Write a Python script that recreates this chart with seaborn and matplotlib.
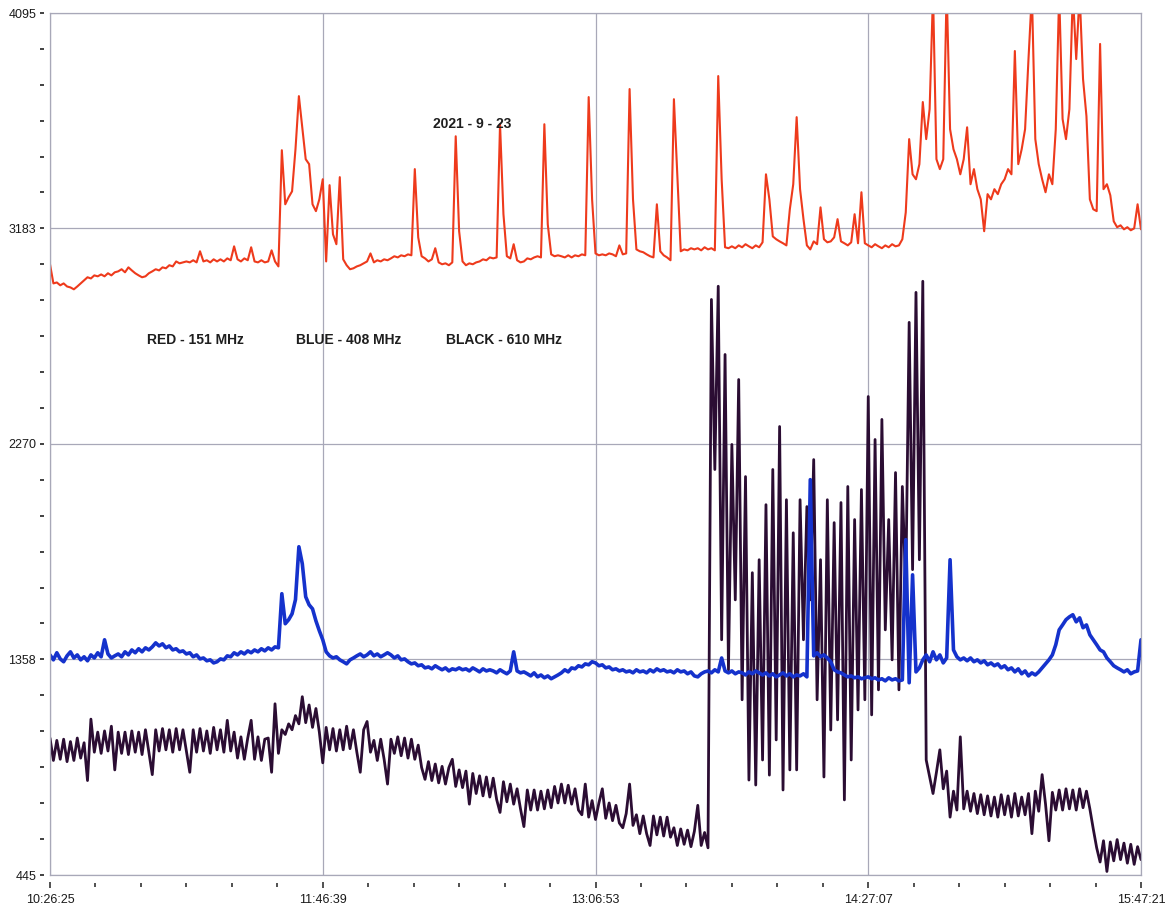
import numpy as np
import matplotlib
matplotlib.use("Agg")
import matplotlib.pyplot as plt
import matplotlib.transforms as mtransforms
import seaborn as sns

sns.set_style("white")
plt.rcParams["font.family"] = ["Liberation Sans", "DejaVu Sans"]

# Recording window: 10:26:25 -> 15:47:21, seconds from start
DURATION_S = 19256
time_ticks_s = [0, 4814, 9628, 14442, 19256]
time_labels = ["10:26:25", "11:46:39", "13:06:53", "14:27:07", "15:47:21"]
level_ticks = [445, 1358, 2270, 3183, 4095]
level_labels = ["445", "1358", "2270", "3183", "4095"]

# Receiver levels (ADC counts), one sample per ~60 s
red_151 = [
    3031, 2950, 2954, 2942, 2950, 2937, 2933, 2925, 2937, 2950,
    2963, 2976, 2971, 2984, 2980, 2988, 2980, 2993, 2984, 2997,
    3001, 3010, 2997, 3018, 3005, 2993, 2984, 2976, 2980, 2993,
    3001, 3010, 3005, 3018, 3014, 3027, 3022, 3043, 3035, 3039,
    3043, 3039, 3048, 3039, 3086, 3043, 3048, 3039, 3052, 3043,
    3052, 3043, 3056, 3048, 3107, 3052, 3043, 3056, 3048, 3103,
    3043, 3039, 3048, 3039, 3043, 3090, 3043, 3022, 3514, 3285,
    3315, 3340, 3518, 3743, 3611, 3476, 3455, 3285, 3256, 3306,
    3391, 3043, 3366, 3158, 3116, 3400, 3052, 3027, 3010, 3014,
    3022, 3027, 3035, 3043, 3077, 3039, 3048, 3043, 3052, 3048,
    3056, 3065, 3060, 3069, 3065, 3073, 3069, 3434, 3145, 3065,
    3056, 3043, 3052, 3099, 3039, 3031, 3035, 3027, 3039, 3573,
    3171, 3043, 3027, 3035, 3031, 3039, 3043, 3052, 3048, 3060,
    3056, 3060, 3624, 3243, 3065, 3056, 3116, 3048, 3039, 3043,
    3056, 3052, 3060, 3065, 3060, 3624, 3200, 3073, 3065, 3069,
    3065, 3060, 3069, 3060, 3069, 3065, 3073, 3069, 3739, 3306,
    3077, 3069, 3073, 3069, 3077, 3073, 3065, 3111, 3073, 3077,
    3773, 3306, 3094, 3086, 3082, 3073, 3065, 3060, 3285, 3086,
    3069, 3060, 3048, 3730, 3412, 3086, 3094, 3090, 3099, 3094,
    3099, 3090, 3103, 3094, 3099, 3090, 3828, 3391, 3103, 3099,
    3107, 3099, 3111, 3103, 3116, 3107, 3099, 3111, 3103, 3124,
    3412, 3306, 3149, 3137, 3128, 3120, 3111, 3264, 3370, 3654,
    3349, 3222, 3111, 3094, 3128, 3116, 3272, 3137, 3124, 3128,
    3145, 3222, 3128, 3120, 3111, 3124, 3243, 3120, 3336, 3120,
    3111, 3103, 3116, 3107, 3099, 3111, 3103, 3116, 3107, 3111,
    3137, 3251, 3561, 3412, 3391, 3455, 3718, 3561, 3688, 4180,
    3476, 3434, 3476, 4200, 3603, 3518, 3476, 3412, 3476, 3611,
    3370, 3434, 3349, 3306, 3171, 3328, 3306, 3349, 3328, 3370,
    3391, 3434, 3412, 3934, 3455, 3518, 3603, 3900, 4180, 3561,
    3455, 3391, 3336, 3412, 3370, 3603, 4180, 3646, 3561, 3688,
    4180, 3900, 4180, 3815, 3658, 3306, 3264, 3256, 3964, 3349,
    3370, 3323, 3213, 3188, 3196, 3179, 3188, 3175, 3183, 3285, 3179,
]

blue_408 = [
    1377, 1356, 1386, 1360, 1348, 1373, 1390, 1364, 1377, 1356,
    1369, 1352, 1377, 1364, 1386, 1369, 1441, 1381, 1364, 1373,
    1381, 1369, 1390, 1377, 1398, 1386, 1403, 1390, 1407, 1398,
    1411, 1428, 1415, 1424, 1407, 1415, 1398, 1403, 1390, 1394,
    1381, 1386, 1369, 1377, 1360, 1364, 1352, 1356, 1343, 1348,
    1360, 1356, 1373, 1369, 1386, 1377, 1390, 1381, 1394, 1386,
    1398, 1390, 1403, 1394, 1407, 1398, 1411, 1407, 1636, 1509,
    1526, 1551, 1611, 1835, 1763, 1623, 1589, 1572, 1521, 1479,
    1441, 1390, 1373, 1364, 1369, 1356, 1348, 1339, 1356, 1364,
    1373, 1381, 1369, 1377, 1390, 1373, 1381, 1369, 1377, 1386,
    1377, 1364, 1373, 1356, 1360, 1348, 1339, 1343, 1331, 1335,
    1322, 1326, 1318, 1331, 1322, 1314, 1322, 1309, 1318, 1314,
    1322, 1314, 1318, 1309, 1322, 1314, 1305, 1318, 1309, 1314,
    1309, 1301, 1314, 1305, 1297, 1309, 1390, 1309, 1301, 1305,
    1297, 1288, 1301, 1284, 1292, 1280, 1288, 1276, 1284, 1292,
    1301, 1314, 1305, 1322, 1318, 1331, 1326, 1339, 1335, 1348,
    1343, 1331, 1335, 1322, 1326, 1314, 1318, 1309, 1314, 1305,
    1309, 1301, 1314, 1305, 1309, 1301, 1314, 1305, 1318, 1309,
    1314, 1305, 1309, 1301, 1314, 1305, 1309, 1297, 1305, 1288,
    1284, 1297, 1305, 1309, 1301, 1314, 1305, 1364, 1309, 1301,
    1309, 1297, 1305, 1301, 1292, 1305, 1297, 1309, 1301, 1292,
    1301, 1288, 1297, 1284, 1292, 1301, 1288, 1297, 1284, 1292,
    1288, 1297, 1284, 2119, 1373, 1386, 1369, 1377, 1364, 1348,
    1314, 1305, 1301, 1292, 1284, 1288, 1280, 1284, 1276, 1280,
    1284, 1276, 1280, 1271, 1276, 1267, 1280, 1271, 1276, 1267,
    1271, 1865, 1259, 1716, 1305, 1322, 1356, 1377, 1348, 1390,
    1356, 1377, 1343, 1364, 1780, 1398, 1369, 1356, 1364, 1352,
    1364, 1348, 1356, 1343, 1352, 1335, 1343, 1331, 1339, 1322,
    1331, 1314, 1322, 1305, 1318, 1297, 1309, 1288, 1301, 1292,
    1305, 1322, 1339, 1356, 1377, 1420, 1483, 1504, 1526, 1538,
    1547, 1517, 1534, 1492, 1504, 1462, 1441, 1420, 1398, 1390,
    1364, 1348, 1331, 1322, 1314, 1305, 1314, 1297, 1305, 1309, 1441,
]

black_610 = [
    1025, 930, 1015, 935, 1020, 925, 1010, 930, 1025, 940,
    1005, 845, 1105, 965, 1050, 960, 1055, 970, 1075, 890,
    1050, 960, 1050, 955, 1055, 965, 1050, 955, 1060, 965,
    870, 1060, 970, 1065, 975, 1060, 965, 1065, 975, 1060,
    970, 880, 1060, 965, 1065, 970, 1055, 960, 1070, 975,
    1060, 965, 1100, 970, 1050, 940, 1030, 935, 1025, 1100,
    935, 1030, 930, 1020, 1025, 880, 1170, 960, 1060, 1040,
    1085, 1060, 1120, 1085, 1200, 1090, 1165, 1070, 1150, 1050,
    920, 1070, 975, 1065, 970, 1060, 975, 1075, 980, 1060,
    965, 880, 1060, 1095, 965, 1015, 930, 1020, 935, 830,
    1020, 960, 1030, 950, 1025, 940, 1020, 935, 995, 900,
    850, 925, 845, 915, 835, 905, 830, 900, 935, 820,
    890, 815, 885, 745, 875, 790, 865, 780, 860, 775,
    855, 765, 710, 840, 755, 830, 745, 810, 725, 650,
    805, 720, 805, 720, 800, 725, 805, 730, 820, 750,
    830, 750, 825, 745, 810, 720, 700, 830, 690, 760,
    680, 750, 810, 685, 750, 675, 740, 665, 645, 705,
    830, 655, 700, 620, 695, 620, 570, 695, 615, 690,
    610, 690, 605, 645, 570, 640, 575, 635, 565, 630,
    740, 570, 625, 560, 2882, 2162, 2938, 1441, 2649, 1314,
    2268, 1610, 2543, 1187, 2132, 847, 1725, 826, 1780, 932,
    2013, 868, 2162, 1017, 2344, 805, 2034, 890, 1894, 890,
    2034, 1441, 2005, 1610, 2204, 1187, 1780, 860, 2034, 1059,
    1937, 1102, 2022, 763, 2090, 932, 1950, 1144, 2077, 1187,
    2471, 1123, 2289, 1229, 2374, 1483, 1950, 1356, 2149, 1229,
    2090, 1653, 2785, 1738, 2912, 1780, 2959, 932, 860, 790,
    880, 975, 810, 885, 690, 800, 720, 1030, 725, 800,
    715, 790, 705, 785, 700, 780, 695, 775, 690, 785,
    700, 780, 690, 790, 695, 775, 700, 790, 620, 800,
    715, 870, 745, 590, 795, 720, 805, 720, 810, 725,
    805, 720, 810, 730, 800, 725, 640, 560, 500, 590,
    460, 585, 505, 595, 510, 580, 495, 575, 490, 565, 510,
]

series = [
    ("RED - 151 MHz", red_151, "#ee3a1c", 1.5),
    ("BLACK - 610 MHz", black_610, "#2b0d33", 2.0),
    ("BLUE - 408 MHz", blue_408, "#1532cc", 2.6),
]

t = np.linspace(0, DURATION_S, len(red_151))

W, H = 1170, 910
fig = plt.figure(figsize=(W / 100, H / 100), dpi=100)
ax = fig.add_axes([50 / W, 1 - 875 / H, 1091 / W, 862 / H])

for name, vals, col, lw in series:
    sns.lineplot(x=t, y=vals, ax=ax, color=col, linewidth=lw,
                 estimator=None, sort=False, legend=False)

ax.set_xlim(0, DURATION_S)
ax.set_ylim(level_ticks[0], level_ticks[-1])
ax.set_xlabel("")
ax.set_ylabel("")

grid_col = "#a8a8b8"
ax.set_xticks(time_ticks_s, time_labels)
ax.set_yticks(level_ticks, level_labels)
ax.grid(True, color=grid_col, linewidth=0.9)
ax.set_axisbelow(True)
for sp in ax.spines.values():
    sp.set_color(grid_col)
    sp.set_linewidth(0.9)
ax.tick_params(axis="both", length=0, labelsize=9, colors="#1a1a1a")
ax.tick_params(axis="y", pad=10)
ax.tick_params(axis="x", pad=13.5)

# detached dash ticks on the value axis (5 minor between labels)
ytr = mtransforms.blended_transform_factory(ax.transAxes, ax.transData)
y_dashes = np.unique(np.concatenate([
    np.linspace(a, b, 7) for a, b in zip(level_ticks[:-1], level_ticks[1:])
]))
ax.plot(np.full(len(y_dashes), -8 / 1091), y_dashes, ls="none", marker="_",
        ms=3.2, mew=1.3, color="#333333", transform=ytr, clip_on=False)

# detached time ticks below the axis
xtr = mtransforms.blended_transform_factory(ax.transData, ax.transAxes)
x_minor = np.concatenate([
    np.linspace(a, b, 7)[1:-1] for a, b in zip(time_ticks_s[:-1], time_ticks_s[1:])
])
ax.plot(x_minor, np.full(len(x_minor), -10 / 862), ls="none", marker="|",
        ms=2.2, mew=1.2, color="#333333", transform=xtr, clip_on=False)
ax.plot(time_ticks_s, np.full(len(time_ticks_s), -10 / 862), ls="none",
        marker="|", ms=4.5, mew=1.2, color="#333333", transform=xtr,
        clip_on=False)

txt = dict(transform=ax.transAxes, fontsize=10, fontweight="bold",
           color="#1e1e1e", va="center", ha="left")
ax.text(383 / 1091, (875 - 124) / 862, "2021 - 9 - 23", **txt)
label_x = [97 / 1091, 246 / 1091, 396 / 1091]
for (name, _, _, _), lx in zip([series[0], series[2], series[1]], label_x):
    ax.text(lx, (875 - 340) / 862, name, **txt)

fig.savefig("out.png", dpi=100)
